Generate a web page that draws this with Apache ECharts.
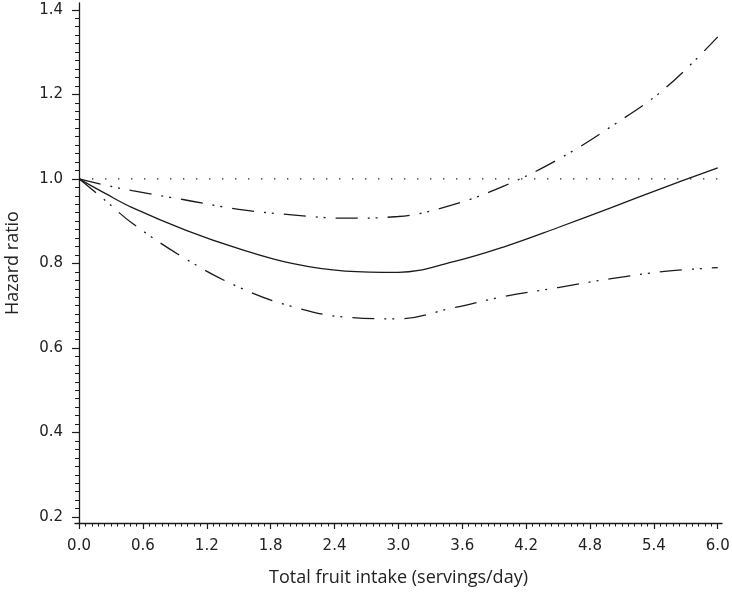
<!DOCTYPE html>
<html>
<head>
<meta charset="utf-8">
<script src="https://cdn.jsdelivr.net/npm/echarts@6/dist/echarts.min.js"></script>
<style>
html,body{margin:0;padding:0;background:#fff;}
#chart{width:732px;height:592px;}
</style>
</head>
<body>
<div id="chart"></div>
<script>
// Intake (servings/day)
const intake = [0, 0.25, 0.5, 1.0, 1.5, 2.0, 2.5, 3.0, 3.5, 4.0, 4.5, 5.0, 5.5, 6.0];
// Hazard ratio (solid)
const hazard = [1.0, 0.965, 0.932, 0.879, 0.835, 0.800, 0.782, 0.779, 0.803, 0.840, 0.885, 0.932, 0.980, 1.026];
// Upper confidence limit
const upper = [1.0, 0.985, 0.972, 0.950, 0.928, 0.915, 0.907, 0.911, 0.938, 0.984, 1.046, 1.124, 1.213, 1.336];
// Lower confidence limit
const lower = [1.0, 0.948, 0.895, 0.811, 0.744, 0.698, 0.673, 0.669, 0.694, 0.722, 0.743, 0.764, 0.781, 0.790];
// Reference line
const refX = [0, 6.04];
const refY = [1.0, 1.0];
// Tick labels
const xTicks = [0.0, 0.6, 1.2, 1.8, 2.4, 3.0, 3.6, 4.2, 4.8, 5.4, 6.0];
const yTicks = [0.2, 0.4, 0.6, 0.8, 1.0, 1.2, 1.4];

const xMinor = [];
for (let i = 0; i <= 100; i++) { if (i % 10 !== 0) xMinor.push(+(i * 0.06).toFixed(2)); }
const yMinor = [];
for (let i = 10; i <= 70; i++) { if (i % 10 !== 0) yMinor.push(+(i * 0.02).toFixed(2)); }

const pairs = (xs, ys) => xs.map((x, i) => [x, ys[i]]);
const X_MIN = -0.038, X_MAX = 6.04, Y_MIN = 0.186, Y_MAX = 1.416;
const ink = '#1a1a1a';
const tickFont = { fontFamily: 'DejaVu Sans', fontSize: 15, color: '#222' };
const titleFont = { fontFamily: 'Open Sans', fontSize: 18, color: '#222' };
const dashDot = [22, 10, 2, 6, 2, 10];

const chart = echarts.init(document.getElementById('chart'), null, { renderer: 'canvas' });
chart.setOption({
  animation: false,
  backgroundColor: '#fff',
  grid: { left: 75, right: 10, top: 3, bottom: 69, containLabel: false, outerBoundsMode: 'none' },
  xAxis: [
    {
      type: 'value', min: X_MIN, max: X_MAX, position: 'bottom',
      name: 'Total fruit intake (servings/day)', nameLocation: 'middle', nameGap: 46,
      nameTextStyle: titleFont,
      axisLine: { show: true, lineStyle: { color: ink, width: 1.3 } },
      axisTick: { show: true, inside: false, length: 6, customValues: xTicks, lineStyle: { color: ink, width: 1.2 } },
      axisLabel: Object.assign({ show: true, margin: 16, customValues: xTicks, formatter: v => v.toFixed(1) }, tickFont),
      splitLine: { show: false }
    },
    {
      type: 'value', min: X_MIN, max: X_MAX, position: 'bottom',
      axisLine: { show: false },
      axisTick: { show: true, inside: false, length: 3.5, customValues: xMinor, lineStyle: { color: ink, width: 1 } },
      axisLabel: { show: false },
      splitLine: { show: false }
    }
  ],
  yAxis: [
    {
      type: 'value', min: Y_MIN, max: Y_MAX, position: 'left',
      name: 'Hazard ratio', nameLocation: 'middle', nameGap: 53,
      nameTextStyle: titleFont,
      axisLine: { show: true, lineStyle: { color: ink, width: 1.3 } },
      axisTick: { show: true, inside: false, length: 7, customValues: yTicks, lineStyle: { color: ink, width: 1.2 } },
      axisLabel: Object.assign({ show: true, margin: 12, customValues: yTicks, formatter: v => v.toFixed(1) }, tickFont),
      splitLine: { show: false }
    },
    {
      type: 'value', min: Y_MIN, max: Y_MAX, position: 'left',
      axisLine: { show: false },
      axisTick: { show: true, inside: false, length: 4, customValues: yMinor, lineStyle: { color: ink, width: 1 } },
      axisLabel: { show: false },
      splitLine: { show: false }
    }
  ],
  series: [
    {
      type: 'line', name: 'ref', data: pairs(refX, refY), symbol: 'none',
      lineStyle: { color: ink, width: 1.3, type: [1.3, 11.7] }
    },
    {
      type: 'line', name: 'HR', data: pairs(intake, hazard), symbol: 'none', smooth: 0.4,
      lineStyle: { color: ink, width: 1.3 }
    },
    {
      type: 'line', name: 'Upper', data: pairs(intake, upper), symbol: 'none', smooth: 0.4,
      lineStyle: { color: ink, width: 1.3, type: dashDot }
    },
    {
      type: 'line', name: 'Lower', data: pairs(intake, lower), symbol: 'none', smooth: 0.4,
      lineStyle: { color: ink, width: 1.3, type: dashDot }
    }
  ]
});
</script>
</body>
</html>
